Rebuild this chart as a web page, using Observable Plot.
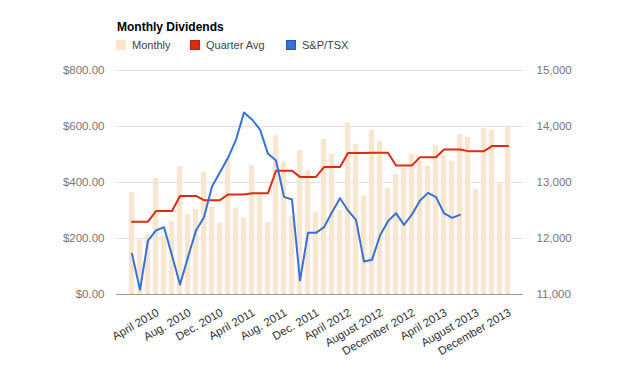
<!DOCTYPE html>
<html>
<head>
<meta charset="utf-8">
<script src="https://cdn.jsdelivr.net/npm/d3@7"></script>
<script src="https://cdn.jsdelivr.net/npm/@observablehq/plot@0.6"></script>
<style>
  html, body { margin: 0; padding: 0; background: #fff; }
  body { width: 640px; height: 365px; overflow: hidden; font-family: "Liberation Sans", Arial, sans-serif; }
  #header { position: relative; width: 640px; height: 58px; }
  #title { position: absolute; left: 117px; top: 20px; font-size: 12px; font-weight: bold; color: #000; }
  .lg { position: absolute; top: 39px; font-size: 11px; color: #444; line-height: 13px; white-space: nowrap; }
  .sw { position: absolute; top: 40px; width: 10px; height: 10px; box-sizing: border-box; }
  #chart { position: relative; width: 640px; height: 307px; }
  #chart svg { position: absolute; left: 0; top: 0; overflow: visible; }
</style>
</head>
<body>
<div id="header">
  <div id="title">Monthly Dividends</div>
  <div class="sw" style="left:116px;background:#fce5cd;"></div>
  <div class="lg" style="left:132px;">Monthly</div>
  <div class="sw" style="left:190px;background:#dc2b10;border:1px solid #b8220a;"></div>
  <div class="lg" style="left:206px;">Quarter Avg</div>
  <div class="sw" style="left:286px;background:#3572d8;border:1px solid #2457b0;"></div>
  <div class="lg" style="left:302px;">S&amp;P/TSX</div>
</div>
<div id="chart"></div>
<script>
const months = [
  "2010-01","2010-02","2010-03","2010-04","2010-05","2010-06","2010-07","2010-08","2010-09","2010-10","2010-11","2010-12",
  "2011-01","2011-02","2011-03","2011-04","2011-05","2011-06","2011-07","2011-08","2011-09","2011-10","2011-11","2011-12",
  "2012-01","2012-02","2012-03","2012-04","2012-05","2012-06","2012-07","2012-08","2012-09","2012-10","2012-11","2012-12",
  "2013-01","2013-02","2013-03","2013-04","2013-05","2013-06","2013-07","2013-08","2013-09","2013-10","2013-11","2013-12"
];
const monthly = [
  364,195,213,415,208,260,457,286,304,437,311,256,
  484,306,273,460,362,257,567,471,279,514,442,293,
  554,500,300,613,537,352,586,546,379,429,451,500,
  476,458,532,496,476,571,561,375,594,586,395,599
];
const quarterAvg = [
  260,260,260,298,298,298,352,352,352,337,337,337,
  357,357,357,362,362,362,442,442,442,420,420,420,
  455,455,455,505,505,505,506,506,506,461,461,461,
  490,490,490,518,518,518,512,512,512,530,530,530
];
const tsx = [
  11726,11083,11964,12143,12202,11696,11179,11667,12143,12381,12929,13185,
  13440,13762,14250,14125,13946,13512,13393,12744,12696,11250,12101,12101,
  12202,12470,12720,12500,12333,11589,11619,12054,12310,12452,12244,12429,
  12679,12815,12738,12452,12369,12423
];
const tickMonths = ["2010-04","2010-08","2010-12","2011-04","2011-08","2011-12","2012-04","2012-08","2012-12","2013-04","2013-08","2013-12"];
const tickLabels = ["April 2010","Aug. 2010","Dec. 2010","April 2011","Aug. 2011","Dec. 2011","April 2012","August 2012","December 2012","April 2013","August 2013","December 2013"];
const leftTicks = [0, 200, 400, 600, 800];
const rightTicks = [11000, 12000, 13000, 14000, 15000];

const rows = months.map((m, i) => ({month: m, monthly: monthly[i], quarter: quarterAvg[i]}));
const tsxRows = tsx.map((v, i) => ({month: months[i], value: v}));
const labelOf = new Map(tickMonths.map((m, i) => [m, tickLabels[i]]));

const common = {
  width: 640, height: 307,
  marginTop: 12, marginBottom: 71, marginLeft: 116, marginRight: 117,
  style: {fontFamily: "'Liberation Sans', Arial, sans-serif", fontSize: "11.5px", background: "transparent", overflow: "visible"}
};
const xScale = {type: "band", domain: months, paddingInner: 0.4, paddingOuter: 0.2};

const p1 = Plot.plot({
  ...common,
  x: {...xScale},
  y: {domain: [0, 800]},
  marks: [
    Plot.gridY(leftTicks, {stroke: "#e3e3e3", strokeOpacity: 1}),
    Plot.barY(rows, {x: "month", y: "monthly", fill: "#fce5cd"}),
    Plot.ruleY([0], {stroke: "#999"}),
    Plot.line(rows, {x: "month", y: "quarter", stroke: "#dc2b10", strokeWidth: 2}),
    Plot.axisY(leftTicks, {tickSize: 0, tickPadding: 12, tickFormat: d => "$" + d3.format(",.2f")(d), color: "#777", label: null}),
    Plot.axisX(tickMonths, {tickSize: 0, tickPadding: 17, dx: 2, tickRotate: -30, tickFormat: d => labelOf.get(d), color: "#333", fontSize: 11.5, label: null})
  ]
});
const p2 = Plot.plot({
  ...common,
  x: {...xScale, axis: null},
  y: {domain: [11000, 15000], axis: null},
  marks: [
    Plot.line(tsxRows, {x: "month", y: "value", stroke: "#3572d8", strokeWidth: 2}),
    Plot.axisY(rightTicks, {anchor: "right", tickSize: 0, tickPadding: 13, tickFormat: d3.format(","), color: "#777", label: null})
  ]
});
const chart = document.getElementById("chart");
chart.appendChild(p1);
chart.appendChild(p2);
</script>
</body>
</html>
